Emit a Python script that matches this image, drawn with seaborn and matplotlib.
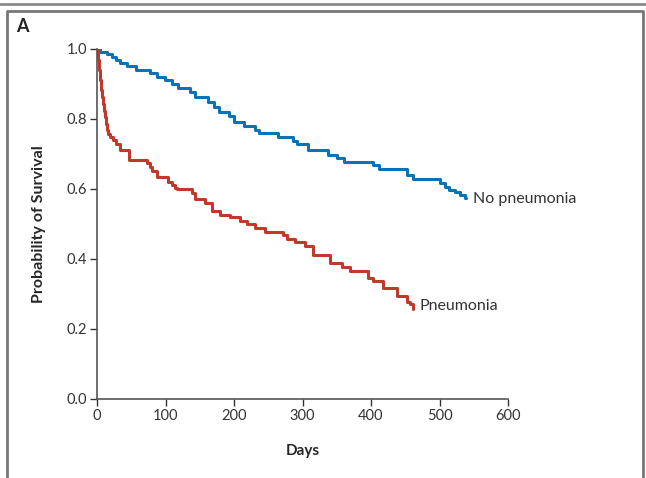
import matplotlib
matplotlib.use("Agg")
import matplotlib.pyplot as plt
import seaborn as sns
import pandas as pd
from matplotlib.lines import Line2D

# Kaplan-Meier steps (days, survival after the step)
no_pneu_days = [0, 4, 15, 22, 28, 34, 44, 57, 77, 88, 99, 110, 118, 136, 143,
                162, 171, 178, 193, 200, 215, 231, 237, 264, 286, 292, 308,
                337, 350, 361, 403, 412, 452, 461, 500, 508, 514, 523, 530, 537, 539]
no_pneu_surv = [1.0, 0.991, 0.986, 0.977, 0.969, 0.960, 0.951, 0.940, 0.931, 0.920,
                0.911, 0.900, 0.889, 0.877, 0.863, 0.849, 0.834, 0.820, 0.809,
                0.791, 0.780, 0.769, 0.760, 0.749, 0.737, 0.729, 0.711, 0.697,
                0.689, 0.677, 0.669, 0.658, 0.640, 0.629, 0.617, 0.606, 0.597,
                0.591, 0.583, 0.574, 0.574]

pneu_days = [0, 1.5, 3, 4.4, 5.8, 7.3, 8.8, 10.2, 11.7, 13.1, 14.6, 16, 19, 23, 28,
             34, 47, 73, 77, 80, 88, 104, 110, 114, 117, 139, 143, 158, 168, 180,
             194, 209, 219, 231, 245, 272, 277, 289, 304, 315, 340, 358, 369, 396,
             403, 418, 438, 453, 457, 461]
pneu_surv = [1.0, 0.969, 0.940, 0.911, 0.883, 0.863, 0.843, 0.823, 0.806, 0.786,
             0.769, 0.757, 0.749, 0.740, 0.729, 0.711, 0.683, 0.674, 0.663, 0.651,
             0.634, 0.620, 0.611, 0.603, 0.600, 0.589, 0.571, 0.560, 0.537, 0.526,
             0.520, 0.509, 0.500, 0.489, 0.477, 0.469, 0.457, 0.449, 0.437, 0.411,
             0.389, 0.377, 0.366, 0.346, 0.337, 0.317, 0.294, 0.277, 0.271, 0.257]

groups = ["No pneumonia", "Pneumonia"]
colors = ["#0A72B6", "#C0392B"]
x_ticks = [0, 100, 200, 300, 400, 500, 600]
y_ticks = [0.0, 0.2, 0.4, 0.6, 0.8, 1.0]

df = pd.concat([
    pd.DataFrame({"days": no_pneu_days, "surv": no_pneu_surv, "group": groups[0]}),
    pd.DataFrame({"days": pneu_days, "surv": pneu_surv, "group": groups[1]}),
])

sns.set_style("white")
plt.rcParams["font.family"] = ["Lato", "DejaVu Sans"]
plt.rcParams["text.color"] = "#333333"

fig = plt.figure(figsize=(6.46, 4.78), dpi=100)
ax = fig.add_axes([97 / 646, 79 / 478, 411 / 646, 350 / 478])

sns.lineplot(data=df, x="days", y="surv", hue="group", palette=colors,
             estimator=None, sort=False, drawstyle="steps-post",
             linewidth=2.2, legend=False, ax=ax)

ax.set_xlim(0, 600)
ax.set_ylim(0, 1.0)
ax.set_xticks(x_ticks)
ax.set_yticks(y_ticks)
ax.set_yticklabels([f"{v:.1f}" for v in y_ticks])
ax.tick_params(direction="out", length=5, width=1, color="#333333",
               labelsize=10.5, labelcolor="#333333", pad=2, left=True, bottom=True)
for s in ["top", "right"]:
    ax.spines[s].set_visible(False)
for s in ["left", "bottom"]:
    ax.spines[s].set_color("#555555")
    ax.spines[s].set_linewidth(1.2)

ax.set_xlabel("Days", fontsize=11, fontweight="bold", labelpad=15)
ax.set_ylabel("Probability of Survival", fontsize=11.5, fontweight="bold", labelpad=15)

ax.text(no_pneu_days[-1] + 10, no_pneu_surv[-1] - 0.003, "No pneumonia",
        fontsize=11.5, va="center", ha="left")
ax.text(pneu_days[-1] + 10, pneu_surv[-1] + 0.01, "Pneumonia",
        fontsize=11.5, va="center", ha="left")

# panel frame
fig.add_artist(Line2D([0, 1], [1 - 4 / 478, 1 - 4 / 478], color="#8a8a8a", lw=2))
fig.add_artist(Line2D([7 / 646, 7 / 646, 643 / 646, 643 / 646],
                      [0, 1 - 11 / 478, 1 - 11 / 478, 0], color="#777777", lw=2))
fig.text(16 / 646, 1 - 27 / 478, "A", fontsize=13, fontweight="bold",
         va="center", ha="left", color="#222222")

fig.savefig("out.png", dpi=100)
